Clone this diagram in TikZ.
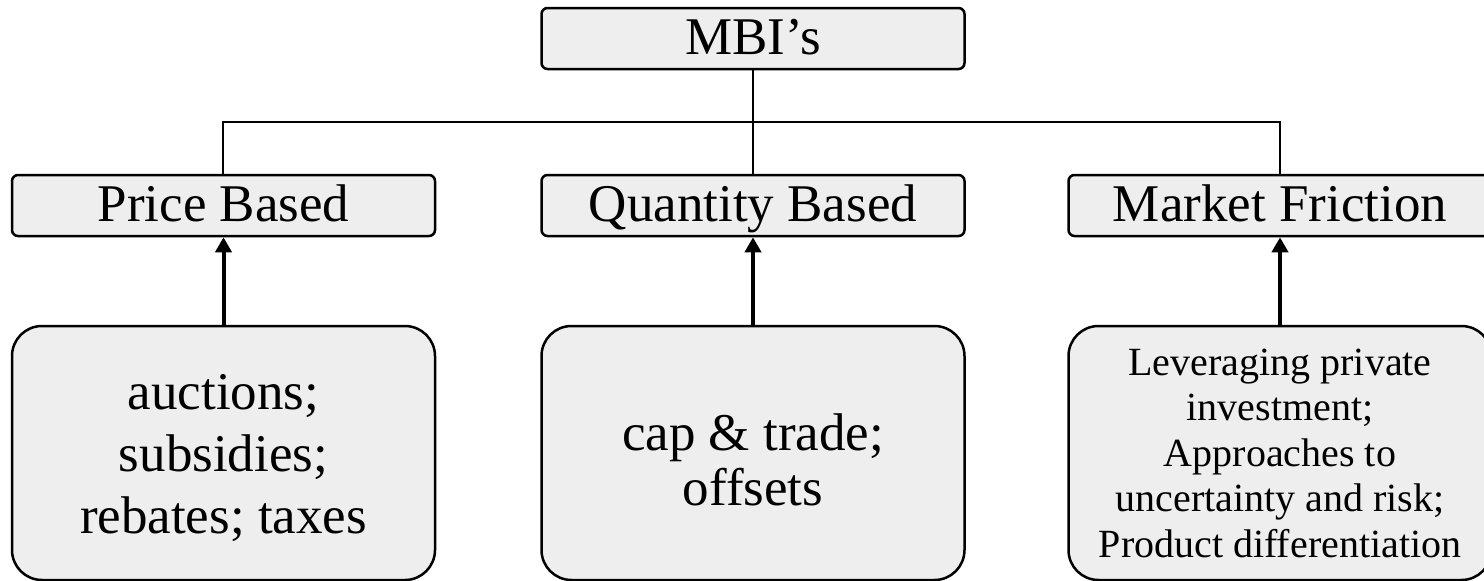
\documentclass[tikz,border=0pt]{standalone}
\usepackage{fontspec}
\setmainfont{Liberation Serif}
\usetikzlibrary{arrows.meta}
\definecolor{boxfill}{HTML}{EEEEEE}
\tikzset{
  headbox/.style={draw=black, line width=2.5pt, fill=boxfill, rounded corners=6pt,
    minimum width=423pt, minimum height=61pt, inner sep=0pt,
    text height=38pt, text depth=6pt,
    font=\fontsize{53}{61}\selectfont},
  itembox/.style={draw=black, line width=2.5pt, fill=boxfill, rounded corners=30pt,
    minimum width=423pt, minimum height=254pt, inner sep=0pt},
  itemtext/.style={align=center, inner sep=0pt},
  treeline/.style={line width=1.5pt, draw=black},
  stemline/.style={line width=2.5pt, draw=black},
  uparrow/.style={line width=4pt, draw=black, -{Triangle[width=16pt,length=15pt]}}
}
\begin{document}
\begin{tikzpicture}[x=1pt,y=-1pt]
\useasboundingbox (0,0) rectangle (1484,581);
\node[headbox] (mbi) at (753,38.5) {MBI’s};
\node[headbox] (price) at (223.5,205.5) {Price Based};
\node[headbox] (qty) at (753,205.5) {Quantity Based};
\node[headbox] (mkt) at (1280,205.5) {Market Friction};
\node[itembox] (pitems) at (223.5,453) {};
\node[itembox] (qitems) at (753,453) {};
\node[itembox] (mitems) at (1280,453) {};
\node[itemtext, font=\fontsize{53}{62}\selectfont] (ptext) at ([yshift=-5pt]pitems.center) {auctions;\\subsidies;\\rebates; taxes};
\node[itemtext, font=\fontsize{53}{55}\selectfont] (qtext) at ([yshift=-7pt]qitems.center) {cap \& trade;\\offsets};
\node[itemtext, font=\fontsize{40}{45.5}\selectfont] (mtext) at (mitems.center) {Leveraging private\\investment;\\Approaches to\\uncertainty and risk;\\Product differentiation};
\coordinate (bl) at (223,122);
\coordinate (br) at (1280,122);
\draw[treeline] (price.north -| bl) -- (bl) -- (br) -- (mkt.north);
\draw[stemline] (mbi.south) -- (qty.north);
\draw[uparrow] (pitems.north) -- (price.south);
\draw[uparrow] (qitems.north) -- (qty.south);
\draw[uparrow] (mitems.north) -- (mkt.south);
\end{tikzpicture}
\end{document}
